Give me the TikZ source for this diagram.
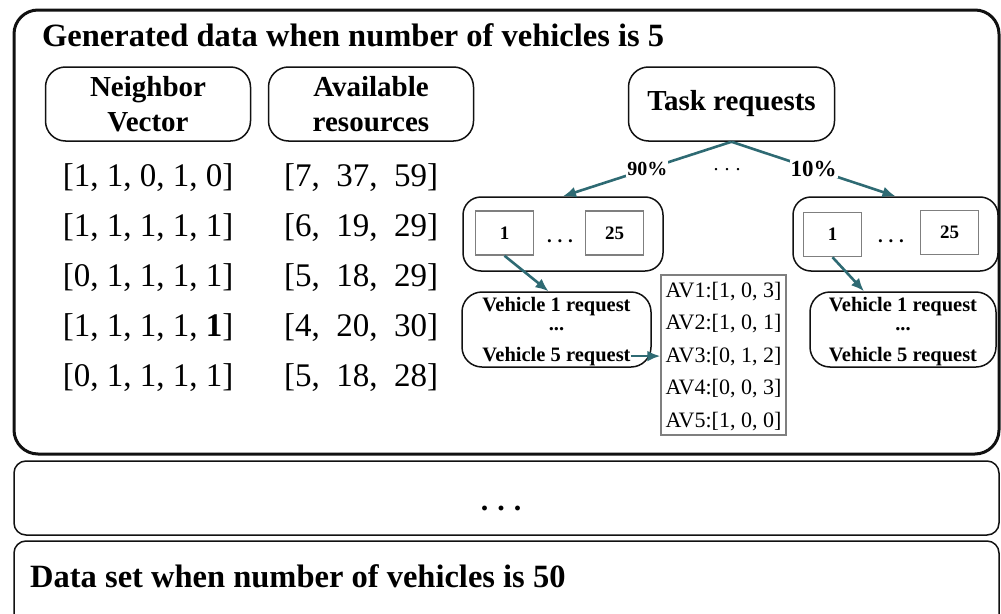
\documentclass[tikz,border=0pt]{standalone}
\usepackage{fontspec}
\setmainfont{Liberation Serif}
\usetikzlibrary{arrows.meta,positioning}
\definecolor{dsink}{HTML}{111111}
\definecolor{dsteal}{HTML}{2E6A73}
\definecolor{dsgray}{HTML}{7F7F7F}
\newcommand{\dsfont}[2]{\fontsize{#1}{#2}\selectfont}
\newcommand{\dsdots}{.\hspace{0.3em}.\hspace{0.3em}.}
\tikzset{
  every picture/.style={text=black},
  panel/.style={draw=dsink,line width=1.5pt,rounded corners=12pt,inner sep=0pt},
  mainpanel/.style={panel,line width=3pt,rounded corners=24pt},
  header/.style={draw=dsink,line width=1.5pt,rounded corners=20pt,minimum width=205pt,
    minimum height=74pt,align=center,inner sep=0pt,font=\dsfont{29}{35}\bfseries},
  vecrow/.style={inner sep=0pt,font=\dsfont{33}{36}},
  group/.style={draw=dsink,line width=1.5pt,rounded corners=18pt,minimum height=74pt,inner sep=0pt},
  idbox/.style={draw=dsgray,line width=1.5pt,minimum width=58pt,minimum height=44pt,
    inner sep=0pt,font=\dsfont{19}{22}\bfseries},
  reqbox/.style={draw=dsink,line width=1.5pt,rounded corners=20pt,minimum height=75pt,inner sep=0pt},
  reqline/.style={anchor=base,inner sep=0pt,font=\dsfont{20.5}{22}\bfseries},
  avline/.style={anchor=base,inner sep=0pt,font=\dsfont{22}{24}},
  link/.style={draw=dsteal,line width=2.6pt,-{Latex[length=13pt,width=11pt]}},
  share/.style={fill=white,inner sep=1pt},
}

\begin{document}
\begin{tikzpicture}[x=1pt,y=-1pt]
  % one panel per vehicle count; only the 5-vehicle panel is opened up
  \useasboundingbox (0,0) rectangle (1001,613);
  \clip (0,0) rectangle (1001,613);
  \node[mainpanel,minimum width=985pt,minimum height=444pt] (gen) at (506.5,232) {};
  \node[panel,minimum width=985pt,minimum height=74pt] (mid) at (506.5,498) {};
  \node[panel,minimum width=985pt,minimum height=98pt] (last) at (506.5,590) {};
  \node[anchor=base west,inner sep=0pt,font=\dsfont{32.5}{36}\bfseries] (title) at (42,46)
    {Generated data when number of vehicles is 5};
  \node[anchor=base,inner sep=0pt,font=\dsfont{30}{32}\bfseries] (middots) at (501,510) {\dsdots};
  \node[anchor=base west,inner sep=0pt,font=\dsfont{32.5}{36}\bfseries] (lasttitle) at (30,587)
    {Data set when number of vehicles is 50};

  \node[header] (nbr) at (148,104) {Neighbor\\Vector};
  \node[header] (res) at (371,104) {Available\\resources};
  \node[header,minimum width=206pt] (task) at (731.5,104) {Task requests};

  \foreach \nv/\ar [count=\k] in {{[1, 1, 0, 1, 0]}/{[7,\ \ 37,\ \ 59]},
      {[1, 1, 1, 1, 1]}/{[6,\ \ 19,\ \ 29]},
      {[0, 1, 1, 1, 1]}/{[5,\ \ 18,\ \ 29]},
      {[1, 1, 1, 1, \textbf{1}]}/{[4,\ \ 20,\ \ 30]},
      {[0, 1, 1, 1, 1]}/{[5,\ \ 18,\ \ 28]}} {
    \node[vecrow] (nv\k) at (148,128+50*\k) {\nv};
    \node[vecrow] (ar\k) at (361,128+50*\k) {\ar};
  }

  \node[group,minimum width=200pt] (grpA) at (563,234) {};
  \node[group,minimum width=205pt] (grpB) at (895.5,234) {};
  \node[idbox] (idA1) at (504.5,233) {1};
  \node[idbox] (idA25) at (614.5,233) {25};
  \node[idbox] (idB1) at (832.5,234.5) {1};
  \node[idbox] (idB25) at (949.5,232.5) {25};
  \node[anchor=base,inner sep=0pt,font=\dsfont{19}{22}\bfseries] (dotsA) at (560,242) {\dsdots};
  \node[anchor=base,inner sep=0pt,font=\dsfont{19}{22}\bfseries] (dotsB) at (891,242) {\dsdots};
  \node[anchor=base,inner sep=0pt,font=\dsfont{20}{22}] (dotsT) at (727,170) {\dsdots};

  \draw[link] (task.south) -- node[share,font=\dsfont{20}{22}\bfseries]{90\%} (grpA.north);
  \draw[link] (task.south) -- node[share,font=\dsfont{23}{25}\bfseries]{10\%} (grpB.north);

  \node[reqbox,minimum width=189pt] (vehA) at (556.5,329.5) {};
  \node[reqbox,minimum width=186pt] (vehB) at (903,329.5) {};
  \node[reqline] (v1A) at (556.5,311) {Vehicle 1 request};
  \node[reqline] (vdA) at (556.5,330) {...};
  \node[reqline] (v5A) at (556.5,361) {Vehicle 5 request};
  \node[reqline] (v1B) at (903,311) {Vehicle 1 request};
  \node[reqline] (vdB) at (903,330) {...};
  \node[reqline] (v5B) at (903,361) {Vehicle 5 request};

  \node[draw=dsgray,line width=1.5pt,minimum width=125pt,minimum height=160pt,inner sep=0pt]
    (avbox) at (723.5,355) {};
  \foreach \av [count=\k] in {{[1, 0, 3]},{[1, 0, 1]},{[0, 1, 2]},{[0, 0, 3]},{[1, 0, 0]}}
    \node[avline] (av\k) at (723.5,264.5+32.5*\k) {AV\k:\av};

  \draw[link] (idA1.south) -- ([xshift=-8pt]vehA.north);
  \draw[link] (idB1.south) -- ([xshift=-39pt]vehB.north);
  \draw[link] (v5A.east) -- (avbox.west |- v5A.east);
\end{tikzpicture}
\end{document}
